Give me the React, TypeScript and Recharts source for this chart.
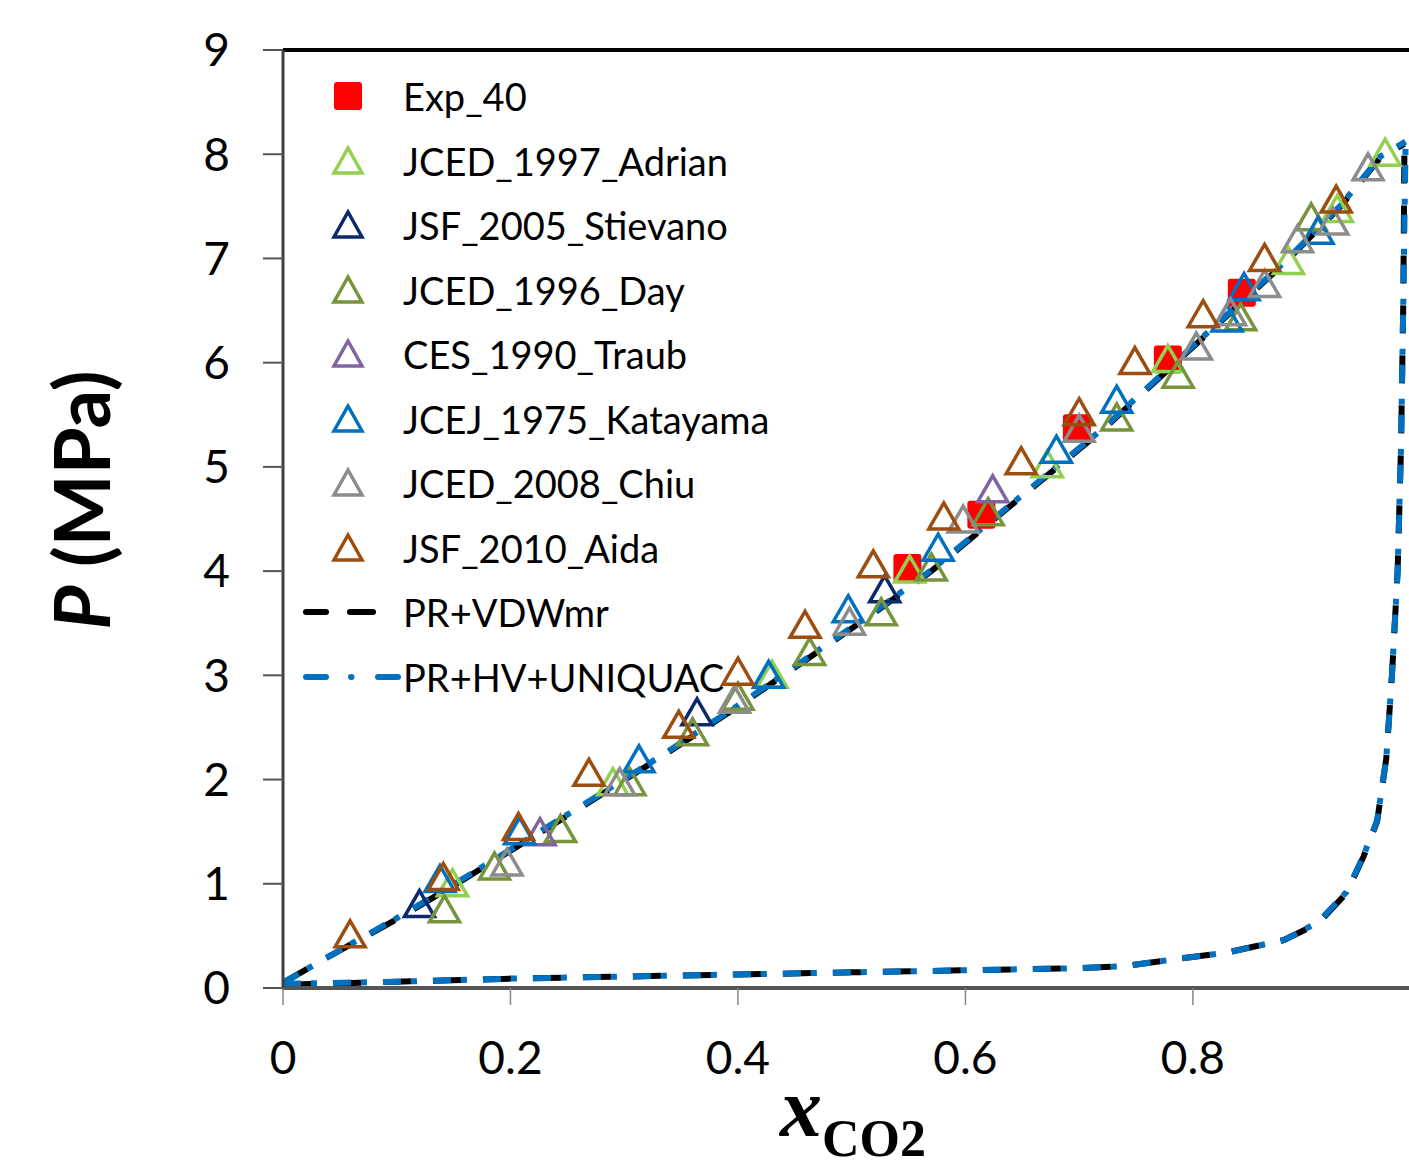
import {
  ComposedChart,
  Line,
  ReferenceLine,
  Scatter,
  XAxis,
  YAxis,
} from "recharts";

// measured points [x_CO2, P (MPa)]
const exp40 = [[0.549, 4.03], [0.614, 4.54], [0.698, 5.37], [0.778, 6.03], [0.843, 6.67]];
const adrian1997 = [[0.149, 1.0], [0.29, 1.97], [0.43, 3.0], [0.551, 4.01], [0.672, 5.02], [0.778, 6.03], [0.884, 6.97], [0.927, 7.47], [0.969, 8.01]];
const stievano2005 = [[0.12, 0.8], [0.364, 2.64], [0.529, 3.82]];
const day1996 = [[0.142, 0.75], [0.186, 1.16], [0.244, 1.52], [0.305, 1.97], [0.36, 2.45], [0.4, 2.79], [0.463, 3.22], [0.526, 3.6], [0.57, 4.03], [0.62, 4.56], [0.733, 5.47], [0.787, 5.88], [0.842, 6.43], [0.904, 7.39]];
const traub1990 = [[0.226, 1.49], [0.624, 4.78]];
const katayama1975 = [[0.138, 1.04], [0.208, 1.5], [0.313, 2.19], [0.427, 3.0], [0.497, 3.63], [0.576, 4.22], [0.68, 5.16], [0.733, 5.64], [0.83, 6.42], [0.845, 6.72], [0.91, 7.26]];
const chiu2008 = [[0.197, 1.2], [0.296, 1.97], [0.397, 2.76], [0.498, 3.51], [0.598, 4.49], [0.7, 5.36], [0.803, 6.15], [0.833, 6.48], [0.863, 6.75], [0.892, 7.18], [0.923, 7.35], [0.954, 7.87]];
const aida2010 = [[0.059, 0.51], [0.141, 1.06], [0.207, 1.54], [0.269, 2.06], [0.348, 2.52], [0.4, 3.03], [0.459, 3.48], [0.519, 4.06], [0.581, 4.52], [0.649, 5.05], [0.7, 5.52], [0.749, 6.01], [0.809, 6.46], [0.863, 7.0], [0.926, 7.56]];

// model curves: bubble (liquid) and dew (vapour) branches
const vdwBubble = [[0, 0.05], [0.035, 0.27], [0.1, 0.66], [0.16, 1.05], [0.26, 1.72], [0.33, 2.2], [0.4, 2.7], [0.46, 3.15], [0.52, 3.6], [0.57, 4.0], [0.62, 4.45], [0.67, 4.9], [0.72, 5.35], [0.76, 5.75], [0.82, 6.35], [0.88, 6.95], [0.93, 7.5], [0.965, 7.97], [0.986, 8.1]];
const vdwDew = [[0, 0.03], [0.1, 0.06], [0.2, 0.09], [0.3, 0.11], [0.4, 0.13], [0.5, 0.15], [0.6, 0.17], [0.7, 0.19], [0.74, 0.21], [0.78, 0.27], [0.83, 0.34], [0.88, 0.46], [0.91, 0.62], [0.935, 0.91], [0.95, 1.26], [0.962, 1.6], [0.97, 2.2], [0.975, 3.0], [0.98, 4.0], [0.983, 5.2], [0.985, 6.6], [0.986, 8.1]];
const hvBubble = [[0, 0.05], [0.035, 0.27], [0.1, 0.67], [0.16, 1.06], [0.26, 1.73], [0.33, 2.21], [0.4, 2.71], [0.46, 3.16], [0.52, 3.61], [0.57, 4.01], [0.62, 4.46], [0.67, 4.91], [0.72, 5.36], [0.76, 5.76], [0.82, 6.36], [0.88, 6.96], [0.93, 7.51], [0.965, 7.98], [0.987, 8.12]];
const hvDew = [[0, 0.04], [0.1, 0.06], [0.2, 0.09], [0.3, 0.11], [0.4, 0.13], [0.5, 0.15], [0.6, 0.17], [0.7, 0.19], [0.74, 0.21], [0.78, 0.27], [0.83, 0.34], [0.88, 0.46], [0.91, 0.63], [0.935, 0.92], [0.95, 1.27], [0.962, 1.61], [0.97, 2.2], [0.975, 3.0], [0.98, 4.0], [0.983, 5.2], [0.985, 6.6], [0.987, 8.12]];

const xTicks = [0, 0.2, 0.4, 0.6, 0.8];
const yTicks = [0, 1, 2, 3, 4, 5, 6, 7, 8, 9];

const markerSeries = [
  { name: "Exp_40", pts: exp40, color: "#FF0000", square: true },
  { name: "JCED_1997_Adrian", pts: adrian1997, color: "#92D050" },
  { name: "JSF_2005_Stievano", pts: stievano2005, color: "#0B2A6B" },
  { name: "JCED_1996_Day", pts: day1996, color: "#77933C" },
  { name: "CES_1990_Traub", pts: traub1990, color: "#8064A2" },
  { name: "JCEJ_1975_Katayama", pts: katayama1975, color: "#0070C0" },
  { name: "JCED_2008_Chiu", pts: chiu2008, color: "#8C8C8C" },
  { name: "JSF_2010_Aida", pts: aida2010, color: "#9C4E10" },
];

// same period so the gaps of both model lines fall together
const BLACK_DASH = "28 22";
const BLUE_DASH = "18 10 6 16";

const toRows = (pts: number[][]) => pts.map(([x, p]) => ({ x, p }));

const Triangle = (color: string) => (props: any) => {
  const { cx, cy } = props;
  if (cx == null || cy == null) return null;
  return (
    <polygon
      points={`${cx},${cy - 14} ${cx + 15},${cy + 12} ${cx - 15},${cy + 12}`}
      fill="none"
      stroke={color}
      strokeWidth={3.5}
    />
  );
};

const Square = (color: string) => (props: any) => {
  const { cx, cy } = props;
  if (cx == null || cy == null) return null;
  return <rect x={cx - 14} y={cy - 14} width={28} height={28} rx={3} fill={color} />;
};

function LegendBox() {
  const rows = [
    ...markerSeries.map((s) => ({ name: s.name, color: s.color, kind: s.square ? "square" : "tri" })),
    { name: "PR+VDWmr", color: "#000", kind: "black" },
    { name: "PR+HV+UNIQUAC", color: "#0070C0", kind: "blue" },
  ];
  return (
    <div style={{ position: "absolute", left: 300, top: 64, fontFamily: "Lato", fontSize: 38, color: "#000" }}>
      {rows.map((r) => (
        <div key={r.name} style={{ display: "flex", alignItems: "center", height: 64.5 }}>
          <svg width={103} height={40} style={{ overflow: "visible" }}>
            {r.kind === "square" && <rect x={34} y={6} width={28} height={28} rx={3} fill={r.color} />}
            {r.kind === "tri" && (
              <polygon points="48,7 62,32 34,32" fill="none" stroke={r.color} strokeWidth={3.5} />
            )}
            {r.kind === "black" && (
              <g stroke="#000" strokeWidth={6} strokeLinecap="round">
                <line x1={6} y1={20} x2={26} y2={20} />
                <line x1={50} y1={20} x2={73} y2={20} />
              </g>
            )}
            {r.kind === "blue" && (
              <g stroke="#0070C0" strokeWidth={6} strokeLinecap="round">
                <line x1={6} y1={20} x2={26} y2={20} />
                <line x1={51} y1={20} x2={51.5} y2={20} />
                <line x1={78} y1={20} x2={98} y2={20} />
              </g>
            )}
          </svg>
          <span style={{ whiteSpace: "nowrap" }}>{r.name}</span>
        </div>
      ))}
    </div>
  );
}

export default function App() {
  return (
    <div style={{ position: "absolute", left: 0, top: 0, width: 1409, height: 1171, overflow: "hidden", background: "#fff" }}>
      <ComposedChart width={1409} height={1171} margin={{ top: 50, right: 0, bottom: 0, left: 0 }}>
        <XAxis
          dataKey="x"
          type="number"
          domain={[0, 0.99]}
          ticks={xTicks}
          allowDataOverflow
          height={183}
          axisLine={{ stroke: "#555", strokeWidth: 4 }}
          tickLine={{ stroke: "#888", strokeWidth: 1.5 }}
          tickSize={17}
          tickMargin={36}
          tick={{ fill: "#000", fontSize: 46, fontFamily: "Lato" }}
          label={{
            content: () => (
              <text x={780} y={1136} fontFamily="Liberation Serif" fontWeight="bold" fill="#000">
                <tspan fontStyle="italic" fontSize={84}>x</tspan>
                <tspan fontSize={52} dy={20}>CO2</tspan>
              </text>
            ),
          }}
        />
        <YAxis
          dataKey="p"
          type="number"
          domain={[0, 9]}
          ticks={yTicks}
          width={283}
          axisLine={{ stroke: "#404040", strokeWidth: 3 }}
          tickLine={{ stroke: "#555", strokeWidth: 2 }}
          tickSize={20}
          tickMargin={33}
          tick={{ fill: "#000", fontSize: 46, fontFamily: "Lato" }}
          label={{
            content: () => (
              <text
                x={80}
                y={500}
                transform="rotate(-90, 80, 500)"
                textAnchor="middle"
                dominantBaseline="central"
                fontFamily="Lato"
                fontWeight="bold"
                fontSize={76}
                fill="#000"
              >
                <tspan fontStyle="italic">P</tspan> (MPa)
              </text>
            ),
          }}
        />
        <ReferenceLine y={9} stroke="#000" strokeWidth={4} />
        {markerSeries.map((s) => (
          <Scatter
            key={s.name}
            name={s.name}
            data={toRows(s.pts)}
            dataKey="p"
            isAnimationActive={false}
            shape={s.square ? Square(s.color) : Triangle(s.color)}
          />
        ))}
        <Line data={toRows(vdwBubble)} dataKey="p" type="linear" stroke="#000" strokeWidth={6} strokeDasharray={BLACK_DASH} dot={false} activeDot={false} isAnimationActive={false} />
        <Line data={toRows(vdwDew)} dataKey="p" type="linear" stroke="#000" strokeWidth={6} strokeDasharray={BLACK_DASH} dot={false} activeDot={false} isAnimationActive={false} />
        <Line data={toRows(hvBubble)} dataKey="p" type="linear" stroke="#0070C0" strokeWidth={6} strokeDasharray={BLUE_DASH} dot={false} activeDot={false} isAnimationActive={false} />
        <Line data={toRows(hvDew)} dataKey="p" type="linear" stroke="#0070C0" strokeWidth={6} strokeDasharray={BLUE_DASH} dot={false} activeDot={false} isAnimationActive={false} />
      </ComposedChart>
      <LegendBox />
    </div>
  );
}
